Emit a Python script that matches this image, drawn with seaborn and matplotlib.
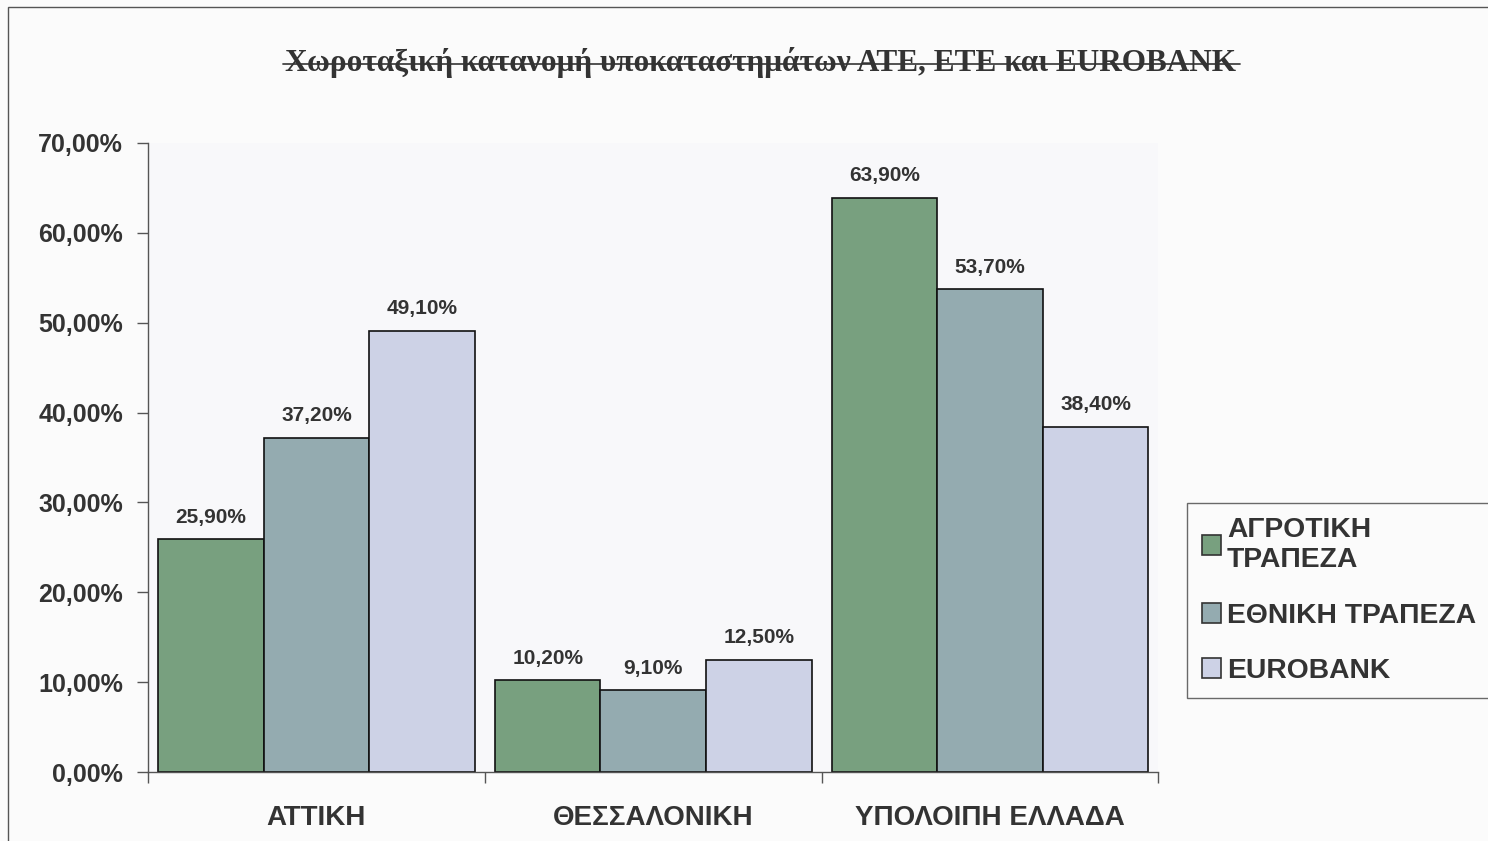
import matplotlib
matplotlib.use("Agg")
import matplotlib.pyplot as plt
import seaborn as sns
import pandas as pd
from matplotlib.patches import Rectangle
from matplotlib.ticker import FuncFormatter, FixedLocator

regions = ["ΑΤΤΙΚΗ", "ΘΕΣΣΑΛΟΝΙΚΗ", "ΥΠΟΛΟΙΠΗ ΕΛΛΑΔΑ"]
banks = ["ΑΓΡΟΤΙΚΗ\nΤΡΑΠΕΖΑ", "ΕΘΝΙΚΗ ΤΡΑΠΕΖΑ", "EUROBANK"]
agrotiki = [25.9, 10.2, 63.9]
ethniki = [37.2, 9.1, 53.7]
eurobank = [49.1, 12.5, 38.4]
colors = ["#78a07f", "#94abb0", "#cdd2e6"]
title = "Χωροταξική κατανομή υποκαταστημάτων ΑΤΕ, ΕΤΕ και EUROBANK"

rows = []
for b, vals in zip(banks, [agrotiki, ethniki, eurobank]):
    for r, v in zip(regions, vals):
        rows.append({"region": r, "bank": b, "value": v})
df = pd.DataFrame(rows)

sns.set_theme(style="white")
plt.rcParams["font.family"] = ["Liberation Sans", "DejaVu Sans"]

fig = plt.figure(figsize=(14.88, 8.41), dpi=100)
fig.patch.set_facecolor("#fbfbfb")
ax = fig.add_axes([0.0995, 0.082, 0.679, 0.748])
ax.set_facecolor("#f8f8fa")

sns.barplot(data=df, x="region", y="value", hue="bank", order=regions,
            hue_order=banks, palette=colors, width=0.94, edgecolor="#111111",
            linewidth=1.2, saturation=1, ax=ax, legend=True)

for cont in ax.containers:
    ax.bar_label(cont, labels=[f"{v:.2f}%".replace(".", ",") for v in cont.datavalues],
                 padding=9, fontsize=15, fontweight="bold", color="#333333")

ax.set_ylim(0, 70)
ax.set_xlim(-0.5, 2.5)
ax.set_yticks(range(0, 71, 10))
ax.yaxis.set_major_formatter(FuncFormatter(lambda v, p: f"{v:.2f}%".replace(".", ",")))
ax.tick_params(axis="y", labelsize=18, labelcolor="#333333", length=8, width=1,
               color="#555555", left=True, pad=10)
for t in ax.get_yticklabels():
    t.set_fontweight("bold")
ax.tick_params(axis="x", which="major", length=0, labelsize=20, labelcolor="#333333", pad=24)
for t in ax.get_xticklabels():
    t.set_fontweight("bold")
ax.xaxis.set_minor_locator(FixedLocator([-0.5, 0.5, 1.5, 2.5]))
ax.tick_params(axis="x", which="minor", length=8, width=1, color="#555555", bottom=True)
ax.set_xlabel("")
ax.set_ylabel("")
for s in ["top", "right"]:
    ax.spines[s].set_visible(False)
for s in ["left", "bottom"]:
    ax.spines[s].set_color("#555555")
    ax.spines[s].set_linewidth(1)

leg = ax.legend(loc="upper left", bbox_to_anchor=(0.798, 0.402), bbox_transform=fig.transFigure,
                frameon=True, fancybox=False, handlelength=0.7, handleheight=0.7,
                handletextpad=0.2, labelspacing=1.05, borderpad=0.5, borderaxespad=0,
                prop={"weight": "bold", "size": 20.3})
leg.get_frame().set_edgecolor("#444444")
leg.get_frame().set_linewidth(1)
leg.get_frame().set_facecolor("#fbfbfb")
for t in leg.get_texts():
    t.set_color("#333333")
for h in leg.legend_handles:
    h.set_edgecolor("#333333")
    h.set_linewidth(1.2)

fig.text(0.511, 0.926, title, ha="center", va="center", fontsize=22.5, fontweight="bold",
         family=["Liberation Serif", "DejaVu Serif"], color="#333333")
fig.add_artist(plt.Line2D([0.19, 0.833], [0.9235, 0.9235], transform=fig.transFigure,
                          color="#444444", linewidth=1.3))

fig.add_artist(Rectangle((0.0055, -0.01), 1.2, 1.0017, transform=fig.transFigure,
                         fill=False, edgecolor="#555555", linewidth=1))

fig.savefig("out.png", dpi=100)
